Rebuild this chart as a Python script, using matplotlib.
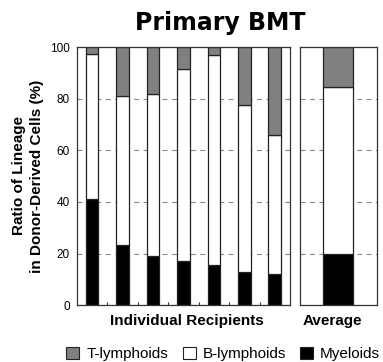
import numpy as np
import matplotlib.pyplot as plt
from matplotlib.patches import Patch

# values (percent of donor-derived cells)
recipients = ['1', '2', '3', '4', '5', '6', '7']
myeloids = [41, 23.5, 19, 17, 15.5, 13, 12]
b_lymph = [56.5, 57.5, 63, 74.5, 81.5, 64.5, 54]
t_lymph = [100 - m - b for m, b in zip(myeloids, b_lymph)]

avg_myeloid = 20
avg_b = 64.5
avg_t = 100 - avg_myeloid - avg_b

c_t = '#808080'
c_b = 'white'
c_m = 'black'
edge = '#222222'

plt.rcParams['font.family'] = ['Liberation Sans', 'DejaVu Sans']

fig = plt.figure(figsize=(3.83, 3.62), dpi=100)
ax1 = fig.add_axes([0.201, 0.157, 0.556, 0.713])
ax2 = fig.add_axes([0.783, 0.157, 0.201, 0.713])

x = np.arange(len(recipients))
w = 0.41
ax1.bar(x, myeloids, w, color=c_m, edgecolor=edge, linewidth=0.9, zorder=3)
ax1.bar(x, b_lymph, w, bottom=myeloids, color=c_b, edgecolor=edge, linewidth=0.9, zorder=3)
ax1.bar(x, t_lymph, w, bottom=np.add(myeloids, b_lymph), color=c_t, edgecolor=edge,
        linewidth=0.9, zorder=3)

ax2.bar([0], [avg_myeloid], 0.39, color=c_m, edgecolor=edge, linewidth=0.9, zorder=3)
ax2.bar([0], [avg_b], 0.39, bottom=[avg_myeloid], color=c_b, edgecolor=edge, linewidth=0.9, zorder=3)
ax2.bar([0], [avg_t], 0.39, bottom=[avg_myeloid + avg_b], color=c_t, edgecolor=edge,
        linewidth=0.9, zorder=3)

for ax in (ax1, ax2):
    ax.set_ylim(0, 100)
    ax.set_yticks([0, 20, 40, 60, 80, 100])
    ax.yaxis.grid(True, color='#8a8a8a', linestyle=(0, (4.5, 4)), linewidth=0.8, zorder=0)
    for s in ax.spines.values():
        s.set_linewidth(0.9)
        s.set_color('#333333')
        s.set_zorder(4)

ax1.set_xlim(-0.5, 6.5)
ax1.set_xticks(np.arange(0.5, 6.5, 1))
ax1.set_xticklabels([])
ax1.tick_params(axis='x', direction='in', length=2, width=0.8, color='#333333')
ax1.tick_params(axis='y', length=0, labelsize=8.5, pad=5)

ax2.set_xlim(-0.5, 0.5)
ax2.set_xticks([])
ax2.tick_params(axis='y', length=0, labelleft=False)

fig.text(0.073, 0.514, 'Ratio of Lineage\nin Donor-Derived Cells (%)', fontsize=11,
         fontweight='bold', rotation=90, ha='center', va='center', linespacing=1.3)
fig.text(0.487, 0.113, 'Individual Recipients', fontsize=11, fontweight='bold',
         ha='center', va='center')
fig.text(0.869, 0.113, 'Average', fontsize=11, fontweight='bold', ha='center', va='center')

fig.text(0.575, 0.937, 'Primary BMT', fontsize=17, fontweight='bold',
         family='DejaVu Sans', ha='center', va='center')

handles = [Patch(facecolor=c_t, edgecolor=edge, linewidth=0.8),
           Patch(facecolor=c_b, edgecolor=edge, linewidth=0.8),
           Patch(facecolor=c_m, edgecolor=edge, linewidth=0.8)]
fig.legend(handles, ['T-lymphoids', 'B-lymphoids', 'Myeloids'], loc='center',
           bbox_to_anchor=(0.583, 0.022), ncol=3, frameon=False, fontsize=11,
           handlelength=0.85, handleheight=0.85, handletextpad=0.45, columnspacing=0.95,
           borderpad=0, borderaxespad=0)

fig.savefig('out.png', dpi=100)
